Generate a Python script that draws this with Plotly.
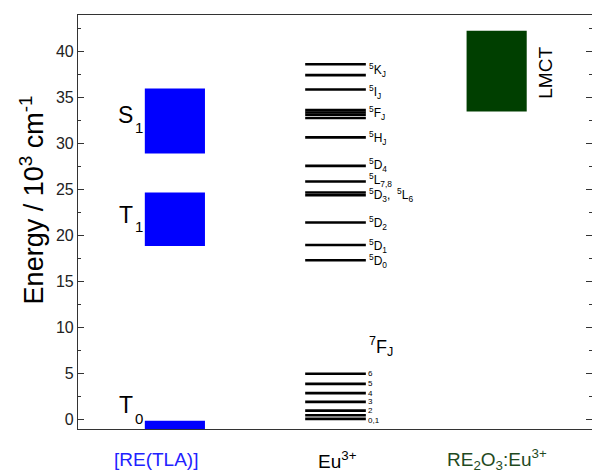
import plotly.graph_objects as go

# ---- data (energies in 10^3 cm^-1) ----
ligand_states = ["S", "T", "T"]
ligand_subs = ["1", "1", "0"]
ligand_lower = [28.95, 18.9, -1.0]
ligand_upper = [36.0, 24.7, -0.1]

lmct_lower = [33.5]
lmct_upper = [42.3]

# Eu3+ ground multiplet 7F_J
eu_7f_levels = [0.1, 0.5, 1.0, 1.95, 2.9, 3.9, 5.0]
eu_7f_labels = ["0,1", "2", "3", "4", "5", "6"]
eu_7f_label_y = [-0.1, 1.05, 1.95, 2.9, 3.9, 5.0]

# Eu3+ excited levels
eu_upper_levels = [17.35, 19.0, 21.45, 24.4, 24.7, 25.9, 27.6, 30.7,
                   32.8, 33.15, 33.41, 33.66, 35.9, 37.46, 38.65]
eu_upper_labels = [
    "<sup>5</sup>D<sub>0</sub>",
    "<sup>5</sup>D<sub>1</sub>",
    "<sup>5</sup>D<sub>2</sub>",
    "<sup>5</sup>D<sub>3</sub>,  <sup>5</sup>L<sub>6</sub>",
    "<sup>5</sup>L<sub>7,8</sub>",
    "<sup>5</sup>D<sub>4</sub>",
    "<sup>5</sup>H<sub>J</sub>",
    "<sup>5</sup>F<sub>J</sub>",
    "<sup>5</sup>I<sub>J</sub>",
    "<sup>5</sup>K<sub>J</sub>",
]
eu_upper_label_y = [17.3, 18.9, 21.4, 24.4, 26.05, 27.7, 30.6, 33.3, 35.6, 38.0]

categories = ["[RE(TLA)]", "Eu<sup>3+</sup>", "RE<sub>2</sub>O<sub>3</sub>:Eu<sup>3+</sup>"]
category_colors = ["#2222ff", "#000000", "#1f4a1f"]

# ---- layout constants ----
FONT = "Arial, Liberation Sans, sans-serif"
BLUE = "#0000ff"
GREEN = "#003f00"
lig_x0, lig_x1 = 1.30, 2.47
eu_x0, eu_x1 = 4.42, 5.60
lm_x0, lm_x1 = 7.56, 8.73
cat_x = [1.52, 5.04, 8.15]

fig = go.Figure()

# ligand singlet / triplet states
fig.add_trace(go.Bar(
    x=[(lig_x0 + lig_x1) / 2] * len(ligand_lower),
    y=[u - l for u, l in zip(ligand_upper, ligand_lower)],
    base=ligand_lower,
    width=lig_x1 - lig_x0,
    marker=dict(color=BLUE, line=dict(width=0)),
    showlegend=False, hoverinfo="skip",
))

# charge-transfer band
fig.add_trace(go.Bar(
    x=[(lm_x0 + lm_x1) / 2],
    y=[u - l for u, l in zip(lmct_upper, lmct_lower)],
    base=lmct_lower,
    width=lm_x1 - lm_x0,
    marker=dict(color=GREEN, line=dict(width=0)),
    showlegend=False, hoverinfo="skip",
))

# Eu3+ energy levels as horizontal segments
xs, ys = [], []
for e in eu_7f_levels + eu_upper_levels:
    xs += [eu_x0, eu_x1, None]
    ys += [e, e, None]
fig.add_trace(go.Scatter(
    x=xs, y=ys, mode="lines",
    line=dict(color="black", width=2.6),
    showlegend=False, hoverinfo="skip",
))

ann = []
lab_x = eu_x1 + 0.03
for txt, y in zip(eu_upper_labels, eu_upper_label_y):
    ann.append(dict(x=lab_x, y=y, text=txt, showarrow=False, xanchor="left",
                    yanchor="middle", font=dict(family=FONT, size=12, color="black")))
for txt, y in zip(eu_7f_labels, eu_7f_label_y):
    ann.append(dict(x=lab_x, y=y, text=txt, showarrow=False, xanchor="left",
                    yanchor="middle", borderpad=0,
                    font=dict(family=FONT, size=8, color="black")))
ann.append(dict(x=lab_x, y=8.0, text="<sup>7</sup>F<sub>J</sub>", showarrow=False,
                xanchor="left", yanchor="middle",
                font=dict(family=FONT, size=18, color="black")))

# ligand state names with lowered subscripts
state_y = [33.1, 22.3, 1.63]
sub_y = [31.8, 21.0, 0.1]
for s, sub, y, ys_ in zip(ligand_states, ligand_subs, state_y, sub_y):
    ann.append(dict(x=0.93, y=y, text=s, showarrow=False, xanchor="center",
                    yanchor="middle", font=dict(family=FONT, size=23, color="black")))
    ann.append(dict(x=1.18, y=ys_, text=sub, showarrow=False, xanchor="center",
                    yanchor="middle", font=dict(family=FONT, size=15, color="black")))

ann.append(dict(x=9.1, y=37.7, text="LMCT", textangle=-90, showarrow=False,
                xanchor="center", yanchor="middle",
                font=dict(family=FONT, size=19, color="black")))

# column labels under the plot
for txt, cx, col in zip(categories, cat_x, category_colors):
    ann.append(dict(x=cx, xref="x", y=-0.074, yref="paper", text=txt, showarrow=False,
                    xanchor="center", yanchor="middle",
                    font=dict(family=FONT, size=19, color=col)))

# axis title
ann.append(dict(x=-0.09, xref="paper", y=0.554, yref="paper",
                text="Energy / 10<sup>3</sup> cm<sup>-1</sup>", textangle=-90,
                showarrow=False, xanchor="center", yanchor="middle",
                font=dict(family=FONT, size=27, color="black")))

fig.update_layout(
    width=592, height=474,
    margin=dict(l=78, r=0, t=15, b=45),
    paper_bgcolor="white", plot_bgcolor="white",
    barmode="overlay",
    annotations=ann,
    xaxis=dict(range=[0, 10], showline=True, linecolor="#333", linewidth=1.2,
               mirror=True, ticks="", showticklabels=False, showgrid=False,
               zeroline=False, fixedrange=True),
    yaxis=dict(range=[-1, 44], tick0=0, dtick=5, ticks="inside", ticklen=6,
               tickwidth=1, tickcolor="#333", showline=True, linecolor="#333",
               linewidth=1.2, mirror="ticks", showgrid=False, zeroline=False,
               tickfont=dict(family=FONT, size=16, color="#222"),
               minor=dict(dtick=2.5, ticks="inside", ticklen=3, tickcolor="#333",
                          showgrid=False),
               fixedrange=True),
)

fig.write_html("out.html")
